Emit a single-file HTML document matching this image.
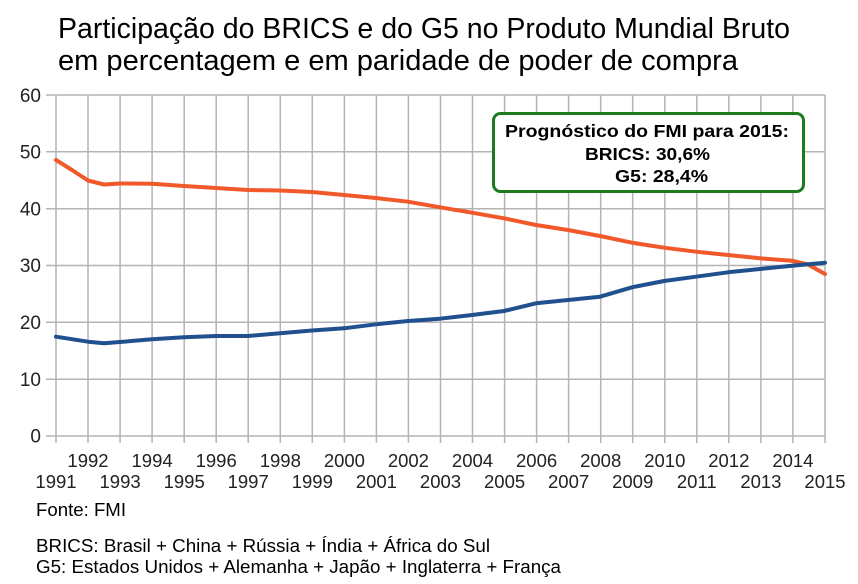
<!DOCTYPE html>
<html><head><meta charset="utf-8"><style>
html,body{margin:0;padding:0;background:#fff;}
svg{display:block;font-family:"Liberation Sans",Arial,sans-serif;}
</style></head><body>
<svg width="858" height="584" viewBox="0 0 858 584" xmlns="http://www.w3.org/2000/svg">
<rect width="858" height="584" fill="#fff"/>
<text x="58" y="38" font-size="28.5" fill="#000" textLength="732" lengthAdjust="spacingAndGlyphs">Participação do BRICS e do G5 no Produto Mundial Bruto</text>
<text x="58" y="70" font-size="28.5" fill="#000" textLength="680" lengthAdjust="spacingAndGlyphs">em percentagem e em paridade de poder de compra</text>
<g stroke="#b4b4b4" stroke-width="1.5" fill="none">
<line x1="46" y1="95" x2="825" y2="95"/>
<line x1="46" y1="151.8" x2="825" y2="151.8"/>
<line x1="46" y1="208.7" x2="825" y2="208.7"/>
<line x1="46" y1="265.5" x2="825" y2="265.5"/>
<line x1="46" y1="322.3" x2="825" y2="322.3"/>
<line x1="46" y1="379.2" x2="825" y2="379.2"/>
<line x1="46" y1="436" x2="825" y2="436"/>
<line x1="56" y1="95" x2="56" y2="443"/><line x1="88" y1="95" x2="88" y2="443"/><line x1="120.1" y1="95" x2="120.1" y2="443"/><line x1="152.1" y1="95" x2="152.1" y2="443"/><line x1="184.2" y1="95" x2="184.2" y2="443"/><line x1="216.2" y1="95" x2="216.2" y2="443"/><line x1="248.2" y1="95" x2="248.2" y2="443"/><line x1="280.3" y1="95" x2="280.3" y2="443"/><line x1="312.3" y1="95" x2="312.3" y2="443"/><line x1="344.4" y1="95" x2="344.4" y2="443"/><line x1="376.4" y1="95" x2="376.4" y2="443"/><line x1="408.4" y1="95" x2="408.4" y2="443"/><line x1="440.5" y1="95" x2="440.5" y2="443"/><line x1="472.5" y1="95" x2="472.5" y2="443"/><line x1="504.6" y1="95" x2="504.6" y2="443"/><line x1="536.6" y1="95" x2="536.6" y2="443"/><line x1="568.6" y1="95" x2="568.6" y2="443"/><line x1="600.7" y1="95" x2="600.7" y2="443"/><line x1="632.7" y1="95" x2="632.7" y2="443"/><line x1="664.8" y1="95" x2="664.8" y2="443"/><line x1="696.8" y1="95" x2="696.8" y2="443"/><line x1="728.8" y1="95" x2="728.8" y2="443"/><line x1="760.9" y1="95" x2="760.9" y2="443"/><line x1="792.9" y1="95" x2="792.9" y2="443"/><line x1="825" y1="95" x2="825" y2="443"/>
</g>
<g font-size="19" fill="#222" text-anchor="end">
<text x="41" y="102">60</text><text x="41" y="158.5">50</text><text x="41" y="215.5">40</text><text x="41" y="272">30</text><text x="41" y="329">20</text><text x="41" y="386">10</text><text x="41" y="442.5">0</text>
</g>
<g font-size="18.5" fill="#222" text-anchor="middle">
<text x="88" y="467">1992</text><text x="152.1" y="467">1994</text><text x="216.2" y="467">1996</text><text x="280.3" y="467">1998</text><text x="344.4" y="467">2000</text><text x="408.4" y="467">2002</text><text x="472.5" y="467">2004</text><text x="536.6" y="467">2006</text><text x="600.7" y="467">2008</text><text x="664.8" y="467">2010</text><text x="728.8" y="467">2012</text><text x="792.9" y="467">2014</text>
<text x="56" y="488">1991</text><text x="120.1" y="488">1993</text><text x="184.2" y="488">1995</text><text x="248.2" y="488">1997</text><text x="312.3" y="488">1999</text><text x="376.4" y="488">2001</text><text x="440.5" y="488">2003</text><text x="504.6" y="488">2005</text><text x="568.6" y="488">2007</text><text x="632.7" y="488">2009</text><text x="696.8" y="488">2011</text><text x="760.9" y="488">2013</text><text x="825" y="488">2015</text>
</g>
<polyline fill="none" stroke="#f1582a" stroke-width="4" stroke-linejoin="round" stroke-linecap="round"
points="56,160 72,170 88,180.5 104,184.5 120,183.5 152,183.7 184,186 216,188 248,190 280,190.5 312,192 344,195 376,198 408,201.7 440,207.3 472,212.7 504,218.3 536,225 568,230 600,236 632,242.7 664,247.7 696,251.7 728,255 760,258.3 792,260.7 808,264.5 825,274"/>
<polyline fill="none" stroke="#21508f" stroke-width="4" stroke-linejoin="round" stroke-linecap="round"
points="56,336.7 88,341.7 104,343.3 120,342 152,339.3 184,337.3 216,336 248,336 280,333.3 312,330.5 344,328.3 376,324.3 408,321 440,318.7 472,315 504,311 536,303.3 568,300 600,296.7 632,287.3 664,281 696,276.7 728,272.3 760,269 792,265.7 825,262.7"/>
<rect x="493.5" y="113.5" width="310" height="78" rx="7" ry="7" fill="#fff" stroke="#1e7a1e" stroke-width="3"/>
<g font-size="17.5" font-weight="bold" fill="#000">
<text x="505" y="137" textLength="284" lengthAdjust="spacingAndGlyphs">Prognóstico do FMI para 2015:</text>
<text x="585" y="160" textLength="125" lengthAdjust="spacingAndGlyphs">BRICS: 30,6%</text>
<text x="615" y="182" textLength="93" lengthAdjust="spacingAndGlyphs">G5: 28,4%</text>
</g>
<g font-size="18" fill="#000">
<text x="36" y="516" textLength="90" lengthAdjust="spacingAndGlyphs">Fonte: FMI</text>
<text x="36" y="552" textLength="454" lengthAdjust="spacingAndGlyphs">BRICS: Brasil + China + Rússia + Índia + África do Sul</text>
<text x="36" y="573" textLength="525" lengthAdjust="spacingAndGlyphs">G5: Estados Unidos + Alemanha + Japão + Inglaterra + França</text>
</g>
</svg>
</body></html>
